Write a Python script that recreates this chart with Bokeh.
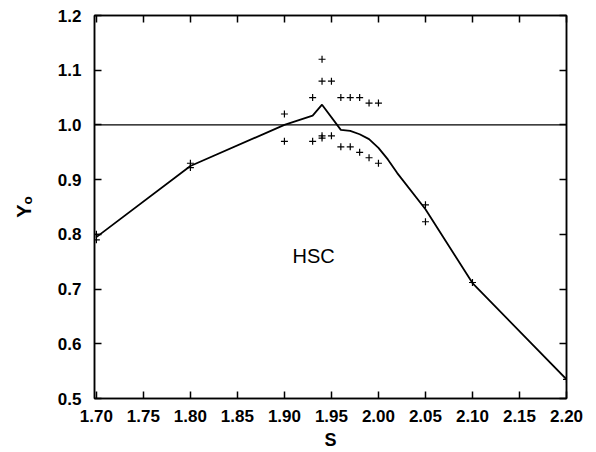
from bokeh.plotting import figure
from bokeh.models import Span, Label, LinearAxis, FixedTicker, Range1d
from bokeh.embed import file_html
from bokeh.resources import INLINE

# Curve (solid line)
curve_s = [1.70, 1.80, 1.90, 1.93, 1.94, 1.96, 1.97, 1.98, 1.99, 2.00, 2.01, 2.02, 2.05, 2.10, 2.20]
curve_y = [0.795, 0.925, 1.000, 1.017, 1.037, 0.991, 0.989, 0.983, 0.974, 0.958, 0.937, 0.912, 0.846, 0.711, 0.535]

# Plus markers
pts_s = [1.70, 1.70, 1.80, 1.80, 1.90, 1.90, 1.93, 1.93, 1.94, 1.94, 1.94, 1.94, 1.95, 1.95,
         1.96, 1.96, 1.97, 1.97, 1.98, 1.98, 1.99, 1.99, 2.00, 2.00, 2.05, 2.05, 2.10, 2.20]
pts_y = [0.800, 0.790, 0.930, 0.922, 1.020, 0.970, 1.050, 0.970, 1.120, 1.080, 0.980, 0.976, 1.080, 0.980,
         1.050, 0.960, 1.050, 0.960, 1.050, 0.950, 1.040, 0.940, 1.040, 0.930, 0.854, 0.823, 0.712, 0.535]

ref_y = 1.0
x_ticks = [1.70, 1.75, 1.80, 1.85, 1.90, 1.95, 2.00, 2.05, 2.10, 2.15, 2.20]
y_ticks = [0.5, 0.6, 0.7, 0.8, 0.9, 1.0, 1.1, 1.2]
x_tick_labels = {v: f"{v:.2f}" for v in x_ticks}
y_tick_labels = {v: f"{v:.1f}" for v in y_ticks}

FONT = "Liberation Sans"

p = figure(width=596, height=452, output_backend="svg", toolbar_location=None,
           x_range=Range1d(1.698, 2.20), y_range=Range1d(0.5, 1.2),
           x_axis_location=None, y_axis_location=None,
           min_border_left=94, min_border_right=30, min_border_top=15, min_border_bottom=54)
p.grid.visible = False
p.outline_line_color = "black"
p.outline_line_width = 1.5
p.background_fill_color = "white"
p.border_fill_color = "white"

def make_axis(cls_ticks, labels, show_labels):
    ax = LinearAxis(ticker=FixedTicker(ticks=cls_ticks))
    ax.major_tick_in = 7
    ax.major_tick_out = 0
    ax.minor_tick_line_color = None
    ax.axis_line_width = 1.5
    ax.major_tick_line_width = 1.5
    ax.major_label_overrides = labels
    ax.major_label_text_font = FONT
    ax.major_label_text_font_style = "bold"
    ax.major_label_text_font_size = "17px"
    ax.major_label_text_color = "black"
    ax.axis_label_text_color = "black"
    if not show_labels:
        ax.major_label_text_font_size = "0px"
        ax.major_label_text_alpha = 0
    return ax

xb = make_axis(x_ticks, x_tick_labels, True)
xb.major_label_standoff = 11
xb.axis_label = "S"
xb.axis_label_text_font = FONT
xb.axis_label_text_font_style = "bold"
xb.axis_label_text_font_size = "18px"
xb.axis_label_standoff = 5
p.add_layout(xb, "below")

yl = make_axis(y_ticks, y_tick_labels, True)
yl.major_label_standoff = 13
yl.axis_label = "Y\u2092"
yl.axis_label_text_font = FONT
yl.axis_label_text_font_style = "bold"
yl.axis_label_text_font_size = "20px"
yl.axis_label_standoff = 20
p.add_layout(yl, "left")

xt = make_axis(x_ticks, {}, False)
p.add_layout(xt, "above")
yr = make_axis(y_ticks, {}, False)
p.add_layout(yr, "right")

p.add_layout(Span(location=ref_y, dimension="width", line_color="black", line_width=1.3))

p.line(curve_s, curve_y, line_color="black", line_width=1.8)
p.scatter(pts_s, pts_y, marker="cross", size=7, line_color="black", line_width=1.2)

p.add_layout(Label(x=1.931, y=0.761, text="HSC", text_font=FONT, text_font_size="20px",
                   text_align="center", text_baseline="middle", text_color="black"))

open("out.html", "w").write(file_html(p, INLINE))
